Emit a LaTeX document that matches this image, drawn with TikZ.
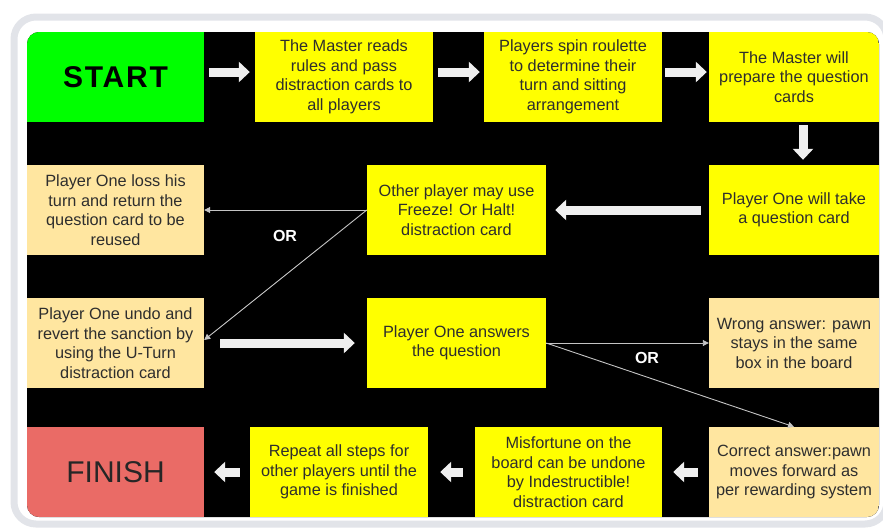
\documentclass[tikz,border=0pt]{standalone}
\usepackage{fontspec}
\setmainfont{Liberation Sans}
\usetikzlibrary{arrows.meta}
\definecolor{startgreen}{HTML}{00FF00}
\definecolor{cardyellow}{HTML}{FFFF00}
\definecolor{cardtan}{HTML}{FFE6A0}
\definecolor{finishred}{HTML}{EA6B66}
\definecolor{framegray}{HTML}{E2E4E9}
\definecolor{arrowwhite}{HTML}{EFEFEF}
\definecolor{linegray}{HTML}{C4C4C4}
\definecolor{cardtext}{HTML}{2E2E2E}

\begin{document}
\begin{tikzpicture}[x=1pt,y=-1pt,
    cardbox/.style={minimum width=178pt,minimum height=90pt,inner sep=0pt,align=center,
        text=cardtext,font=\fontsize{16.3}{19.5}\selectfont},
    yelbox/.style={cardbox,fill=cardyellow},
    tanbox/.style={cardbox,fill=cardtan},
    bigarrow/.style={line width=9pt,draw=arrowwhite,-{Triangle[width=20pt,length=11pt]}},
    orline/.style={draw=linegray,line width=0.9pt,-{Triangle[width=6pt,length=6pt]}},
    orlabel/.style={text=white,font=\bfseries\fontsize{16}{16}\selectfont}]
    \useasboundingbox (0,0) rectangle (883,528);
    \draw[framegray, line width=7pt, rounded corners=22pt] (14,17) rectangle (887,524);
    \fill[black, rounded corners=12pt] (27,32) rectangle (879,517);

    \begin{scope}
        \clip[rounded corners=12pt] (27,32) rectangle (879,517);
        % first row
        \node[cardbox, fill=startgreen, minimum width=177pt, text=black, font=\bfseries\fontsize{30}{30}\selectfont\addfontfeature{LetterSpace=6}] (start) at (115.5,77) {START};
        \node[yelbox] (master) at (344,77) {The Master reads\\rules and pass\\distraction cards to\\all players};
        \node[yelbox] (spin) at (573,77) {Players spin roulette\\to determine their\\turn and sitting\\arrangement};
        \node[yelbox, minimum width=170pt] (prepare) at (794,77) {The Master will\\prepare the question\\cards};
        % second row
        \node[tanbox, minimum width=177pt] (loss) at (115.5,210) {Player One loss his\\turn and return the\\question card to be\\reused};
        \node[yelbox, minimum width=179pt] (other) at (456.5,210) {Other player may use\\Freeze! Or Halt!\\distraction card};
        \node[yelbox, minimum width=170pt] (take) at (794,210) {Player One will take\\a question card};
        % third row
        \node[tanbox, minimum width=177pt] (undo) at (115.5,343) {Player One undo and\\revert the sanction by\\using the U-Turn\\distraction card};
        \node[yelbox, minimum width=179pt] (answers) at (456.5,343) {Player One answers\\the question};
        \node[tanbox, minimum width=170pt] (wrong) at (794,343) {Wrong answer: pawn\\stays in the same\\box in the board};
        % last row
        \node[cardbox, fill=finishred, minimum width=177pt, text=black!85, font=\fontsize{30}{30}\selectfont] (finish) at (115.5,472) {FINISH};
        \node[yelbox] (repeat) at (339,472) {Repeat all steps for\\other players until the\\game is finished};
        \node[yelbox, minimum width=187pt] (misfortune) at (568.5,472) {Misfortune on the\\board can be undone\\by Indestructible!\\distraction card};
        \node[tanbox, minimum width=170pt] (correct) at (794,472) {Correct answer:pawn\\moves forward as\\per rewarding system};
    \end{scope}

    % block arrows
    \draw[bigarrow, shorten <=5pt, shorten >=5pt] ([yshift=5pt]start.east) -- ([yshift=5pt]master.west);
    \draw[bigarrow, shorten <=5pt, shorten >=4pt] ([yshift=5pt]master.east) -- ([yshift=5pt]spin.west);
    \draw[bigarrow, shorten <=3pt, shorten >=2pt] ([yshift=5pt]spin.east) -- ([yshift=5pt]prepare.west);
    \draw[bigarrow, shorten <=3pt, shorten >=5pt] ([xshift=9pt]prepare.south) -- ([xshift=9pt]take.north);
    \draw[bigarrow, shorten <=8pt, shorten >=9pt] (take) -- (other);
    \draw[bigarrow, shorten <=16pt, shorten >=12pt] (undo) -- (answers);
    \draw[bigarrow, shorten <=11pt, shorten >=11pt] (correct) -- (misfortune);
    \draw[bigarrow, shorten <=12pt, shorten >=12pt] (misfortune) -- (repeat);
    \draw[bigarrow, shorten <=10pt, shorten >=10pt] (repeat) -- (finish);

    % choices
    \draw[orline] (other.west) -- (loss.east);
    \draw[orline] (other.west) -- ([yshift=3pt]undo.east);
    \node[orlabel] (or1) at (285,236) {OR};
    \draw[orline] (answers.east) -- (wrong.west);
    \draw[orline] (answers.east) -- (correct.north);
    \node[orlabel] (or2) at (647,358) {OR};
\end{tikzpicture}
\end{document}
